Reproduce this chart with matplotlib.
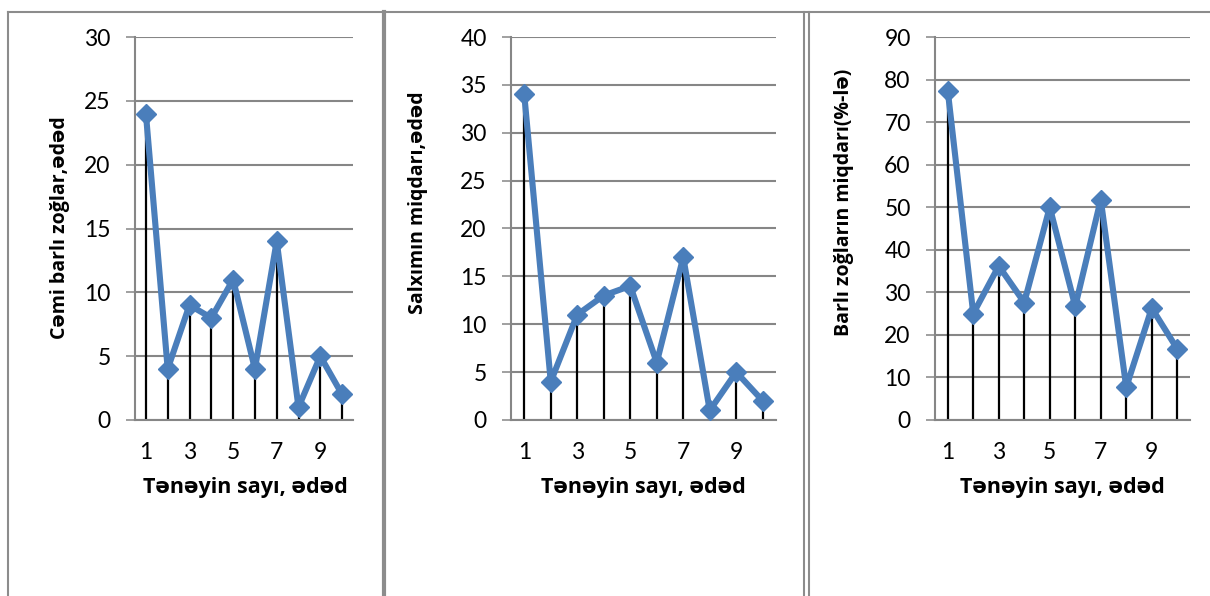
import matplotlib
matplotlib.use("Agg")
import matplotlib.pyplot as plt
from matplotlib.lines import Line2D
import numpy as np

plt.rcParams['font.family'] = ['Lato', 'DejaVu Sans']

# vine count on the x axis, three measured series
vines = [1, 2, 3, 4, 5, 6, 7, 8, 9, 10]
fruit_shoots = [24, 4, 9, 8, 11, 4, 14, 1, 5, 2]
clusters = [34, 4, 11, 13, 14, 6, 17, 1, 5, 2]
fruit_pct = [77.4, 25.0, 36.2, 27.6, 50.0, 26.7, 51.8, 7.7, 26.3, 16.7]

xticks = [1, 3, 5, 7, 9]
xlabel = 'Tənəyin sayı, ədəd'

panels = [
    # series, ylabel, ymax, ystep, axes box (px), ylabel x, ylabel y, xlabel x
    (fruit_shoots, 'Cəmi barlı zoğlar,ədəd', 30, 5, (135, 218), 60, 228, 245),
    (clusters, 'Salxımın miqdarı,ədəd', 40, 5, (511, 265), 418, 203, 643),
    (fruit_pct, 'Barlı zoğların miqdarı(%-lə)', 90, 10, (935, 255), 844, 202, 1062),
]

W, H = 1210, 596
fig = plt.figure(figsize=(W / 100, H / 100), dpi=100)

blue = '#4A7EBB'
grid = '#868686'
label_font = ['Open Sans', 'DejaVu Sans']

for vals, ylab, ymax, ystep, (left, width), ylx, yly, xlx in panels:
    ax = fig.add_axes([left / W, (H - 420) / H, width / W, 383 / H])
    ax.vlines(vines, 0, vals, color='black', lw=1.6, zorder=2)
    ax.plot(vines, vals, color=blue, lw=4.4, marker='D', ms=10,
            mec=blue, mfc=blue, zorder=3)
    ax.set_xlim(0.5, 10.5)
    ax.set_ylim(0, ymax)
    ax.set_yticks(np.arange(0, ymax + 1, ystep))
    ax.set_xticks(xticks)
    ax.yaxis.grid(True, color=grid, lw=1.5)
    ax.set_axisbelow(True)
    for s in ('top', 'right'):
        ax.spines[s].set_visible(False)
    for s in ('left', 'bottom'):
        ax.spines[s].set_color(grid)
        ax.spines[s].set_linewidth(1.5)
    ax.tick_params(axis='y', length=6.5, width=1.1, color=grid,
                   labelsize=16.5, pad=11)
    ax.tick_params(axis='x', length=0, labelsize=16.5, pad=16)
    fig.text(xlx / W, 1 - 487 / H, xlabel, ha='center', va='center',
             fontsize=15.5, fontweight='bold', family=label_font)
    fig.text(ylx / W, 1 - yly / H, ylab, rotation=90, ha='center',
             va='center', fontsize=14, fontweight='bold', family=label_font)

# panel frames
def hline(x0, x1, y, lw=1.5):
    fig.add_artist(Line2D([x0 / W, x1 / W], [1 - y / H, 1 - y / H],
                          color='#8c8c8c', lw=lw))

def vline(x, y0, y1, lw=1.5):
    fig.add_artist(Line2D([x / W, x / W], [1 - y0 / H, 1 - y1 / H],
                          color='#8c8c8c', lw=lw))

hline(8, W, 12)
vline(8, 12, H)
vline(384, 12, H, lw=3)
vline(804, 12, H)
vline(809, 12, H)

fig.savefig('out.png', dpi=100)
